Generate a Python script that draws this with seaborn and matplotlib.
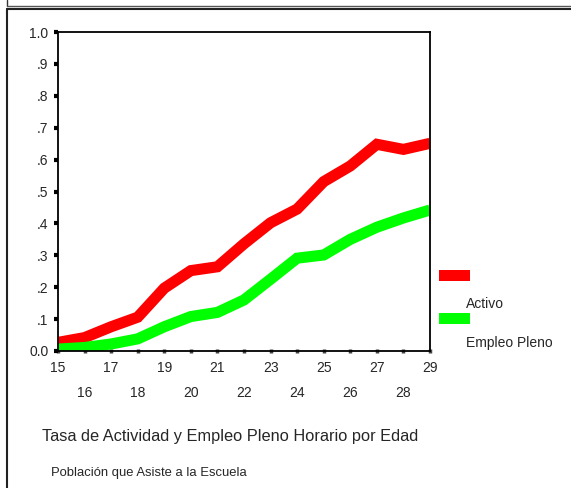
import pandas as pd
import seaborn as sns
import matplotlib.pyplot as plt
from matplotlib.patches import Rectangle
from matplotlib.lines import Line2D

# values
edad = list(range(15, 30))
activo = [0.027, 0.042, 0.076, 0.106, 0.197, 0.252, 0.264, 0.336,
          0.402, 0.445, 0.531, 0.580, 0.648, 0.632, 0.651]
empleo_pleno = [0.006, 0.011, 0.022, 0.038, 0.076, 0.108, 0.121, 0.160,
                0.225, 0.291, 0.301, 0.350, 0.388, 0.417, 0.442]
series = ["Activo", "Empleo Pleno"]
colores = ["#ff0000", "#00ff00"]
y_ticks = [0.0, 0.1, 0.2, 0.3, 0.4, 0.5, 0.6, 0.7, 0.8, 0.9, 1.0]
y_labels = ["0.0", ".1", ".2", ".3", ".4", ".5", ".6", ".7", ".8", ".9", "1.0"]

df = pd.DataFrame({
    "Edad": edad * 2,
    "Tasa": activo + empleo_pleno,
    "Serie": [series[0]] * len(edad) + [series[1]] * len(edad),
})

sns.set_theme(style="white")
plt.rcParams["font.family"] = ["Liberation Sans", "DejaVu Sans"]

fig = plt.figure(figsize=(5.71, 4.88), dpi=100)
ax = fig.add_axes([58 / 571, 1 - 351 / 488, (430 - 58) / 571, (351 - 32) / 488])

sns.lineplot(data=df, x="Edad", y="Tasa", hue="Serie", palette=colores,
             linewidth=8, ax=ax, legend=False)
for line in ax.lines:
    line.set_solid_joinstyle("miter")
    line.set_solid_capstyle("butt")

ax.set_xlim(15, 29)
ax.set_ylim(0, 1.0)
ax.set_xlabel("")
ax.set_ylabel("")

for s in ax.spines.values():
    s.set_color("black")
    s.set_linewidth(1.3)

ax.set_yticks(y_ticks)
ax.set_yticklabels(y_labels)
ax.tick_params(axis="y", direction="out", length=3, width=3, color="black",
               labelsize=10, pad=4, left=True)

odd = [a for a in edad if a % 2 == 1]
even = [a for a in edad if a % 2 == 0]
ax.set_xticks(odd)
ax.set_xticklabels([str(a) for a in odd])
ax.set_xticks(even, minor=True)
ax.set_xticklabels([str(a) for a in even], minor=True)
ax.tick_params(axis="x", which="both", direction="inout", length=3, width=2.5,
               color="#444444", labelsize=10, bottom=True)
ax.tick_params(axis="x", which="major", pad=6)
ax.tick_params(axis="x", which="minor", pad=24)

# legend drawn by hand, label below the swatch
leyenda_y = [(270, 304), (313, 343)]
for nombre, c, (y_sw, y_txt) in zip(series, colores, leyenda_y):
    fig.add_artist(Rectangle((439 / 571, 1 - (y_sw + 11) / 488), 31 / 571, 11 / 488,
                             transform=fig.transFigure, color=c, lw=0))
    fig.text(466 / 571, 1 - y_txt / 488, nombre, fontsize=10,
             va="center", ha="left")

fig.text(42 / 571, 1 - 437 / 488,
         "Tasa de Actividad y Empleo Pleno Horario por Edad",
         fontsize=11.8, va="center", ha="left")
fig.text(51 / 571, 1 - 473 / 488, "Población que Asiste a la Escuela",
         fontsize=9.4, va="center", ha="left")

# outer frames
fig.add_artist(Line2D([6.5 / 571, 6.5 / 571], [1, 1 - 5.5 / 488],
                      transform=fig.transFigure, color="#333333", lw=1))
fig.add_artist(Line2D([6.5 / 571, 1], [1 - 5.5 / 488, 1 - 5.5 / 488],
                      transform=fig.transFigure, color="#555555", lw=1))
fig.add_artist(Line2D([6.5 / 571, 1], [1 - 9 / 488, 1 - 9 / 488],
                      transform=fig.transFigure, color="#222222", lw=1.5))
fig.add_artist(Line2D([6.5 / 571, 6.5 / 571], [1 - 9 / 488, 0],
                      transform=fig.transFigure, color="#222222", lw=1.5))

fig.savefig("out.png", dpi=100)
